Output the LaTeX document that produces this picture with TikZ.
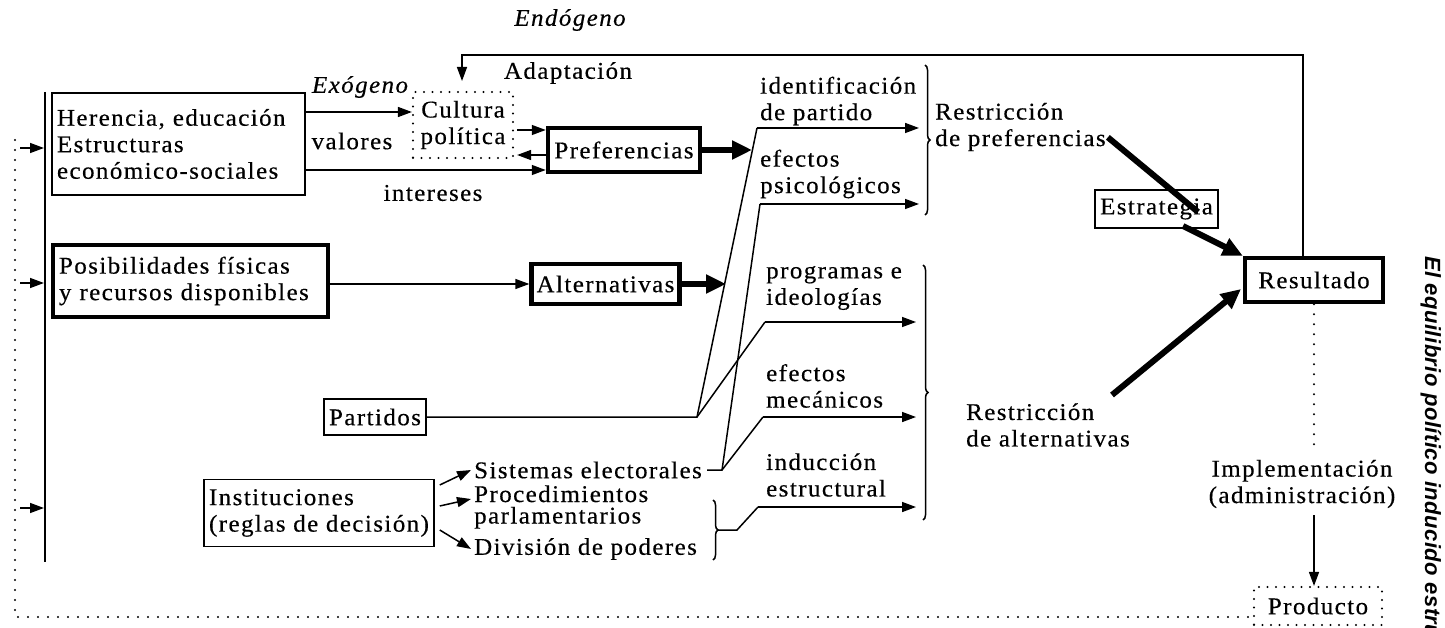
\documentclass[tikz,border=0pt]{standalone}
\usepackage{fontspec}
\setmainfont{Liberation Serif}[FakeStretch=1.04,LetterSpace=6,FakeBold=0.4]
\newfontfamily\sidefont{Liberation Sans}[LetterSpace=2]
\usetikzlibrary{arrows.meta,decorations.pathreplacing,calc}
\tikzset{
 txt/.style={font=\fontsize{24}{26.5}\selectfont, inner sep=0pt, align=left},
 box/.style={txt, draw, line width=1.5pt, inner xsep=5pt, inner ysep=3pt, fill=white},
 thickbox/.style={box, line width=4.5pt},
 dotbox/.style={txt, draw, line width=2.2pt, dash pattern=on 0pt off 8.5pt, line cap=round},
 conn/.style={line width=1.5pt},
 arr/.style={conn, -{Triangle[length=14pt,width=10pt]}},
 bigarr/.style={line width=6pt, -{Triangle[length=20pt,width=18pt]}},
 dots/.style={line width=2.2pt, dash pattern=on 0pt off 10pt, line cap=round},
 rbrace/.style={conn, decorate, decoration={brace, amplitude=5pt}},
}
\begin{document}
\begin{tikzpicture}[x=1pt,y=-1pt]
\useasboundingbox (0,0) rectangle (1445,628);
\clip (0,0) rectangle (1445,628);

% ---------- boxes ----------
\node[box, text width=243pt, minimum height=102pt] (her) at (178.5,144)
  {Herencia, educación\\Estructuras\\económico-sociales};
\node[thickbox, text width=263pt, inner xsep=6pt, minimum height=72pt] (pos) at (190.5,281)
  {Posibilidades físicas\\y recursos disponibles};
\node[dotbox, align=center, minimum width=100pt, minimum height=66pt] (cult) at (463,125)
  {Cultura\\política};
\node[thickbox, minimum width=152pt, minimum height=44pt] (pref) at (624,150) {Preferencias};
\node[thickbox, minimum width=117pt, minimum height=40pt] (alt) at (605.5,284) {Alternativas};
\node[box, minimum width=100pt, minimum height=36pt] (part) at (375,417) {Partidos};
\node[box, minimum width=230pt, minimum height=67pt] (inst) at (319,513)
  {Instituciones\\(reglas de decisión)};
\node[box, minimum width=107pt, minimum height=38pt] (estr) at (1156.5,209) {Estrategia};
\node[thickbox, minimum width=138pt, minimum height=44pt] (res) at (1314,280) {Resultado};
\node[dotbox, minimum width=128pt, minimum height=38pt] (prod) at (1318,606) {Producto};

% ---------- plain texts ----------
\node[txt, font=\fontsize{24}{26.5}\selectfont\itshape] (endo) at (570,20) {Endógeno};
\node[txt] (adapt) at (568,73) {Adaptación};
\node[txt, font=\fontsize{24}{26.5}\selectfont\itshape] (exo) at (360,87) {Exógeno};
\node[txt] (val) at (352,141) {valores};
\node[txt] (inter) at (433,193) {intereses};
\node[txt, anchor=west] (t1) at (760,101) {identificación\\de partido};
\node[txt, anchor=west] (t2) at (760,174) {efectos\\psicológicos};
\node[txt, anchor=west] (t3) at (766,288) {programas e\\ideologías};
\node[txt, anchor=west] (t4) at (766,386) {efectos\\mecánicos};
\node[txt, anchor=west] (t5) at (766,475) {inducción\\estructural};
\node[txt, anchor=west] (rpref) at (935,127) {Restricción\\de preferencias};
\node[txt, anchor=west] (ralt) at (966,425) {Restricción\\de alternativas};
\node[txt, align=center] (impl) at (1302,484) {Implementación\\(administración)};
\node[txt, anchor=west] (sist) at (474,470) {Sistemas electorales};
\node[txt, anchor=west, font=\fontsize{24}{21.5}\selectfont] (proc) at (474,507) {Procedimientos\\parlamentarios};
\node[txt, anchor=west] (divi) at (474,549) {División de poderes};
\node[font=\sidefont\bfseries\itshape\fontsize{22}{24}\selectfont, rotate=-90, anchor=west, inner sep=0pt] (side) at (1431,256)
  {El equilibrio político inducido estru};

% ---------- coordinates ----------
\coordinate (tr) at (1303,55);
\coordinate (tl) at (462,55);
\coordinate (adtip) at (462,81);
\coordinate (a1s) at (757,128); \coordinate (a1e) at (919,128);
\coordinate (a2s) at (760,204); \coordinate (a2e) at (919,204);
\coordinate (a3s) at (765,322); \coordinate (a3e) at (916,322);
\coordinate (a4s) at (763,417); \coordinate (a4e) at (916,417);
\coordinate (a5s) at (758,507); \coordinate (a5e) at (916,507);
\coordinate (pj) at (697,417);
\coordinate (sj) at (722,470);
\coordinate (bt) at (718,530);
\coordinate (bk) at (737,530);
\coordinate (preftip) at (752,150);
\coordinate (alttip) at (726,284);
\coordinate (rpi) at (1198,212);
\coordinate (es) at (1183,226);
\coordinate (ras) at (1112,395);
\coordinate (rat) at (1241,289);
\coordinate (dotend) at (1314,445);

% ---------- connectors ----------
\draw[arr] (res.north -| tr) -- (tr) -- (tl) -- (adtip);
\draw[arr] (her.east |- 0,112) -- (cult.west |- 0,112);
\draw[arr] (her.east |- 0,170) -- (pref.west |- 0,170);
\draw[arr] ($(cult.east |- 0,130)+(3,0)$) -- (pref.west |- 0,130);
\draw[arr] (pref.west |- 0,155) -- ($(cult.east |- 0,155)+(3,0)$);
\draw[bigarr] (pref.east) -- (preftip);
\draw[arr] (pos.east |- alt.west) -- (alt.west);
\draw[bigarr] (alt.east) -- (alttip);

\draw[conn] (part.east) -- (pj) -- (a1s);
\draw[conn] (pj) -- (a3s);
\draw[conn] ($(sist.east)+(5,0)$) -- (sj) -- (a2s);
\draw[conn] (sj) -- (a4s);
\draw[rbrace] (713,500) -- (713,560);
\draw[conn] (bt) -- (bk) -- (a5s);

\draw[arr] (a1s) -- (a1e);
\draw[arr] (a2s) -- (a2e);
\draw[arr] (a3s) -- (a3e);
\draw[arr] (a4s) -- (a4e);
\draw[arr] (a5s) -- (a5e);
\draw[rbrace] (925,65) -- (925,215);
\draw[rbrace] (923,265) -- (923,520);

\draw[arr] ($(inst.east)+(5,-28)$) -- ($(sist.west)+(-3,0)$);
\draw[arr] ($(inst.east)+(5,-7)$) -- ($(proc.west)+(-3,-8)$);
\draw[arr] ($(inst.east)+(5,17)$) -- ($(divi.west)+(-3,0)$);

\draw[line width=6pt] ($(rpref.south east)+(2,-14)$) -- (rpi);
\draw[bigarr] (es) -- (res.north west);
\draw[bigarr] (ras) -- (rat);
\draw[dots] (res.south) -- (dotend);
\draw[arr] (res.south |- 0,515) -- (prod.north -| res.south);

% ---------- left frame ----------
\draw[conn] (45,92) -- (45,562);
\draw[dots] (15,140) -- (15,617) -- (prod.west |- 0,617);
\draw[arr] (20,148) -- (44,148);
\draw[arr] (20,283) -- (44,283);
\draw[arr] (20,508) -- (44,508);
\end{tikzpicture}
\end{document}
